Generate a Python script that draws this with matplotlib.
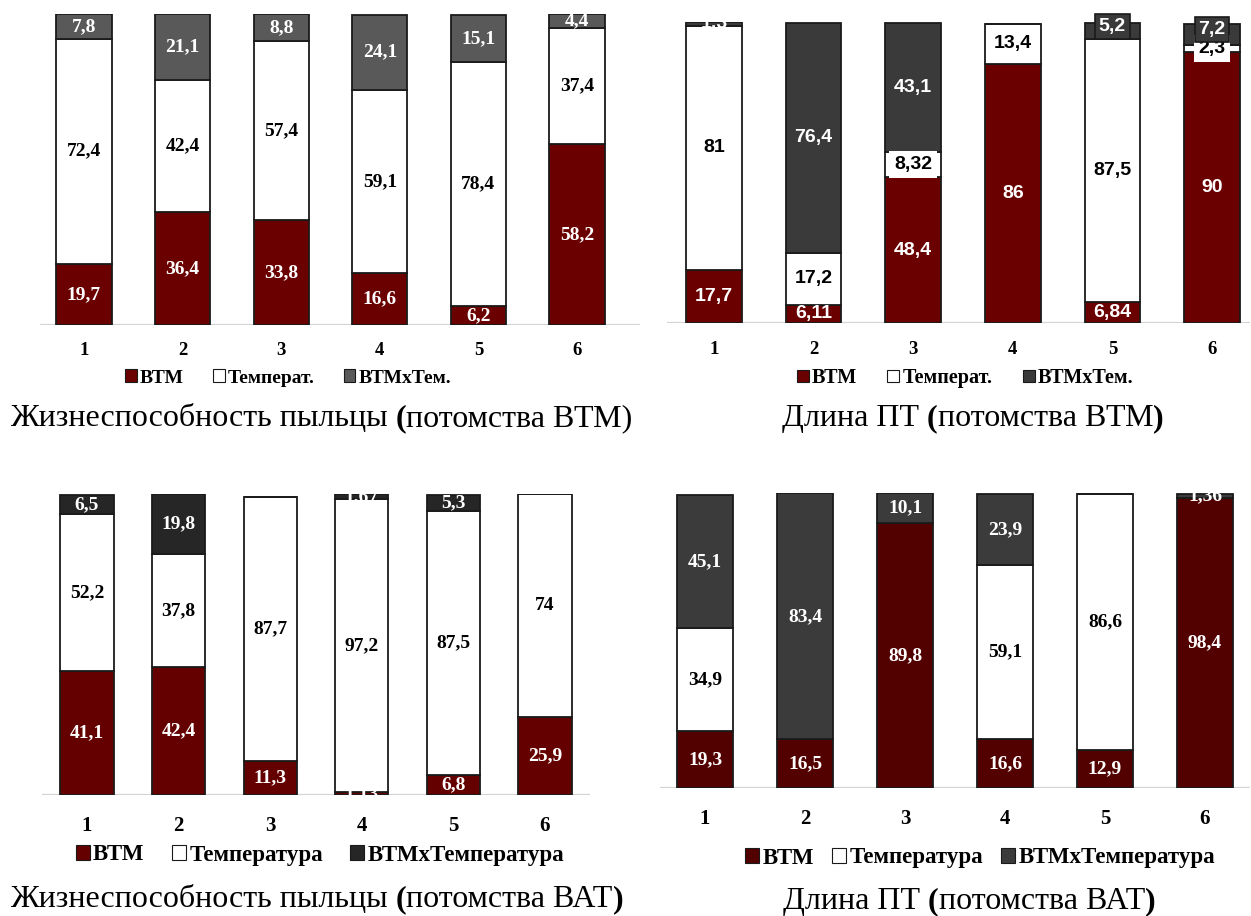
import matplotlib
matplotlib.use("Agg")
import matplotlib.pyplot as plt
from matplotlib.patches import Patch
from matplotlib.text import Annotation

W, H = 1251, 916

groups = ["1", "2", "3", "4", "5", "6"]

# Pollen viability, BTM progeny
tl_btm = [19.7, 36.4, 33.8, 16.6, 6.2, 58.2]
tl_temp = [72.4, 42.4, 57.4, 59.1, 78.4, 37.4]
tl_inter = [7.8, 21.1, 8.8, 24.1, 15.1, 4.4]

# Pollen tube length, BTM progeny
tr_btm = [17.7, 6.11, 48.4, 86, 6.84, 90]
tr_temp = [81, 17.2, 8.32, 13.4, 87.5, 2.3]
tr_inter = [1.3, 76.4, 43.1, 0, 5.2, 7.2]

# Pollen viability, BAT progeny
bl_btm = [41.1, 42.4, 11.3, 1.13, 6.8, 25.9]
bl_temp = [52.2, 37.8, 87.7, 97.2, 87.5, 74]
bl_inter = [6.5, 19.8, 0, 1.67, 5.3, 0]

# Pollen tube length, BAT progeny
br_btm = [19.3, 16.5, 89.8, 16.6, 12.9, 98.4]
br_temp = [34.9, 0, 0, 59.1, 86.6, 0]
br_inter = [45.1, 83.4, 10.1, 23.9, 0, 1.36]

legend_short = ["ВТМ", "Температ.", "ВТМхТем."]
legend_long = ["ВТМ", "Температура", "ВТМхТемпература"]

SERIF = ["Liberation Serif", "DejaVu Serif"]
SANS = ["Liberation Sans Narrow", "Liberation Sans", "DejaVu Sans"]

fig = plt.figure(figsize=(W / 100, H / 100), dpi=100)


def fmt(v):
    return ("%g" % v).replace(".", ",")


def make_axes(left, right, top, bottom, c1, c6):
    """Axes placed in pixel units; group 1 centred at c1 and group 6 at c6."""
    ax = fig.add_axes([left / W, 1 - bottom / H, (right - left) / W, (bottom - top) / H])
    step = (c6 - c1) / 5.0
    ax.set_xlim(1 - (c1 - left) / step, 6 + (right - c6) / step)
    ax.set_ylim(0, 100)
    for s in ax.spines.values():
        s.set_visible(False)
    ax.set_yticks([])
    return ax


def panel(ax, btm, temp, inter, colors, width, lab_font, lab_size,
          tick_pad, tick_size, white_boxes=False, dark_boxes=()):
    x = list(range(1, 7))
    ax.axhline(0, color="#d4d4d4", lw=1.6, zorder=1)
    bottoms = [0] * 6
    for si, (vals, col) in enumerate(zip([btm, temp, inter], colors)):
        ax.bar(x, vals, width, bottom=bottoms, color=col, edgecolor="#1a1a1a",
               linewidth=1.3, zorder=2)
        for i, v in enumerate(vals):
            if v <= 0:
                continue
            yc = bottoms[i] + v / 2
            tc = "black" if si == 1 else "white"
            kw = {}
            if white_boxes and si == 1:
                kw["bbox"] = dict(boxstyle="square,pad=0.25", fc="white", ec="none")
            if si == 2 and i in dark_boxes:
                kw["bbox"] = dict(boxstyle="square,pad=0.2", fc=col, ec="#1a1a1a", lw=1.2)
                yc += 1.5
            ax.text(i + 1, yc, fmt(v), ha="center", va="center", color=tc,
                    family=lab_font, weight="bold", fontsize=lab_size, zorder=4, **kw)
        bottoms = [b + v for b, v in zip(bottoms, vals)]
    ax.set_xticks(x)
    ax.set_xticklabels(groups, family=SERIF, weight="bold", fontsize=tick_size)
    ax.tick_params(axis="x", length=0, pad=tick_pad)


def legend(colors, labels, cx, cy, size, spacing):
    handles = [Patch(facecolor=c, edgecolor="#1a1a1a", lw=0.8) for c in colors]
    fig.legend(handles, labels, loc="center", bbox_to_anchor=(cx / W, 1 - cy / H),
               ncol=3, frameon=False, handlelength=0.6, handleheight=0.6,
               handletextpad=0.15, columnspacing=spacing,
               prop=dict(family=SERIF, weight="bold", size=size))


def caption(x, y, parts, size=23):
    """Caption made of consecutive runs, each either regular or bold."""
    prev = fig.text(x / W, 1 - y / H, parts[0][0], ha="left", va="baseline",
                    family=SERIF, fontsize=size,
                    weight="bold" if parts[0][1] else "normal")
    for txt, bold in parts[1:]:
        prev = fig.add_artist(Annotation(
            txt, xy=(1, 0), xycoords=prev, xytext=(0, 0), textcoords="offset points",
            ha="left", va="bottom", family=SERIF, fontsize=size,
            weight="bold" if bold else "normal"))
    return prev


# Top-left panel
ax1 = make_axes(40, 640, 14, 325, 84, 577)
c1 = ["#6b0000", "white", "#595959"]
panel(ax1, tl_btm, tl_temp, tl_inter, c1, 0.56, SERIF, 14, 12, 13.5)
legend(c1, legend_short, 288, 378, 14, 1.5)

# Top-right panel
ax2 = make_axes(667, 1250, 22, 323, 714, 1212)
c2 = ["#6b0000", "white", "#3a3a3a"]
panel(ax2, tr_btm, tr_temp, tr_inter, c2, 0.56, SANS, 14, 13, 13.5,
      white_boxes=True, dark_boxes=(4, 5))
legend(c2, legend_short, 965, 378, 14.5, 1.5)

# Bottom-left panel
ax3 = make_axes(42, 590, 494, 795, 87, 545)
c3 = ["#650000", "white", "#262626"]
panel(ax3, bl_btm, bl_temp, bl_inter, c3, 0.58, SERIF, 14, 15, 15)
legend(c3, legend_long, 320, 855, 16.5, 1.2)

# Bottom-right panel
ax4 = make_axes(660, 1250, 493, 788, 705, 1205)
c4 = ["#520000", "white", "#3b3b3b"]
panel(ax4, br_btm, br_temp, br_inter, c4, 0.56, SERIF, 14, 15, 15)
legend(c4, legend_long, 980, 858, 16.5, 0.8)

caption(10, 426, [("Жизнеспособность пыльцы ", False), ("(", True),
                  ("потомства ВТМ)", False)])
caption(782, 426, [("Длина ПТ ", False), ("(", True),
                   ("потомства ВТМ", False), (")", True)])
caption(10, 907, [("Жизнеспособность пыльцы ", False), ("(", True),
                  ("потомства ВАТ", False), (")", True)])
caption(783, 909, [("Длина ПТ ", False), ("(", True),
                   ("потомства ВАТ", False), (")", True)])

fig.savefig("out.png", dpi=100)
